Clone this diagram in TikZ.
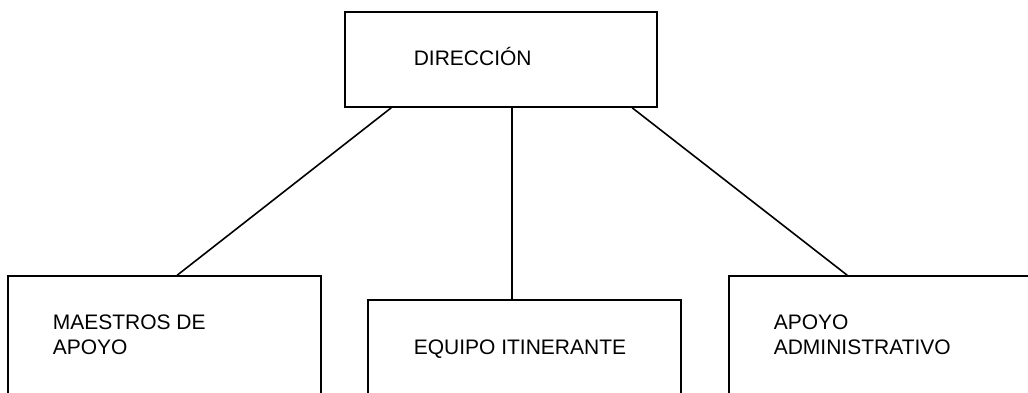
\documentclass[tikz,border=0pt]{standalone}
\usepackage{fontspec}
\setmainfont{Liberation Sans}
\usetikzlibrary{calc}

\tikzset{
  caja/.style={draw, line width=1.6pt, minimum width=313pt, inner sep=0pt},
  texto/.style={anchor=base west, inner sep=0pt, align=left,
    font=\fontsize{21}{25}\selectfont}
}

\begin{document}
\begin{tikzpicture}[x=1pt, y=-1pt, line width=1.6pt]
  \useasboundingbox (0, 0) rectangle (1028, 392);
  \clip (0, 0) rectangle (1028, 392);
  \node[caja, minimum width=312pt, minimum height=95pt] (dir) at (501, 59.5) {};
  \node[caja, minimum height=140pt] (maes) at (164.5, 346) {};
  \node[caja, minimum height=120pt] (equi) at (524.5, 360) {};
  \node[caja, minimum height=140pt] (apad) at (885.5, 346) {};
  \node[texto] (tdir) at (413, 65) {DIRECCIÓN};
  \node[texto] (tmaes) at (52, 354) {MAESTROS DE\\APOYO};
  \node[texto] (tequi) at (413, 354) {EQUIPO ITINERANTE};
  \node[texto] (tapad) at (773, 354) {APOYO\\ADMINISTRATIVO};
  \draw ($(dir.south west)+(47, 0)$) -- ($(maes.north west)+(170, 0)$);
  \draw ($(dir.south west)+(168, 0)$) -- ($(equi.north west)+(145, 0)$);
  \draw ($(dir.south west)+(288, 0)$) -- ($(apad.north west)+(119, 0)$);
\end{tikzpicture}
\end{document}
